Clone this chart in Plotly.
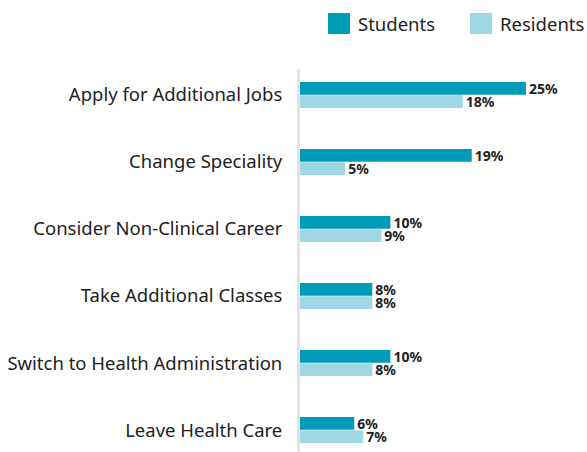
import plotly.graph_objects as go

categories = ["Apply for Additional Jobs", "Change Speciality", "Consider Non-Clinical Career",
              "Take Additional Classes", "Switch to Health Administration", "Leave Health Care"]
students = [25, 19, 10, 8, 10, 6]
residents = [18, 5, 9, 8, 8, 7]
series_names = ["Students", "Residents"]
colors = ["#009bb9", "#9fd7e5"]

fig = go.Figure()
for name, vals, col in zip(series_names, [students, residents], colors):
    fig.add_trace(go.Bar(
        y=categories, x=vals, orientation="h", name=name,
        marker=dict(color=col, line=dict(width=0)),
        text=[f"<b>{v}%</b>" for v in vals], textposition="outside",
        constraintext="none",
        textfont=dict(family="Noto Sans", size=14, color="#222222"),
        cliponaxis=False, showlegend=False,
    ))

W, H, L, T = 587, 452, 300, 69
PW, PH = W - L, H - T

fig.update_layout(
    width=W, height=H,
    margin=dict(l=L, r=0, t=T, b=0, autoexpand=False),
    paper_bgcolor="white", plot_bgcolor="white",
    barmode="group", bargap=0.6, bargroupgap=0.05,
    xaxis=dict(range=[0, 31.75], visible=False, fixedrange=True, automargin=False),
    yaxis=dict(range=[5.328, -0.388], showgrid=False, zeroline=False,
               showline=True, linecolor="#e2e2e2", linewidth=3, automargin=False,
               ticks="", ticklabelstandoff=11,
               tickfont=dict(family="Noto Sans", size=18.5, color="#222222")),
    font=dict(family="Noto Sans"),
)

def px_x(x):
    return (x - L) / PW

def px_y(y):
    return (H - y) / PH

# legend drawn manually (large square swatches)
leg = [(328, "Students", colors[0]), (470, "Residents", colors[1])]
for x0, label, col in leg:
    fig.add_shape(type="rect", xref="paper", yref="paper",
                  x0=px_x(x0), x1=px_x(x0 + 22), y0=px_y(34), y1=px_y(13),
                  fillcolor=col, line=dict(width=0))
    fig.add_annotation(xref="paper", yref="paper", x=px_x(x0 + 28), y=px_y(24),
                       text=label, showarrow=False, xanchor="left", yanchor="middle",
                       font=dict(family="Noto Sans", size=18.5, color="#222222"))

fig.write_html("out.html", config={"displayModeBar": False},
               post_script="document.body.style.margin='0';document.body.style.overflow='hidden';")
